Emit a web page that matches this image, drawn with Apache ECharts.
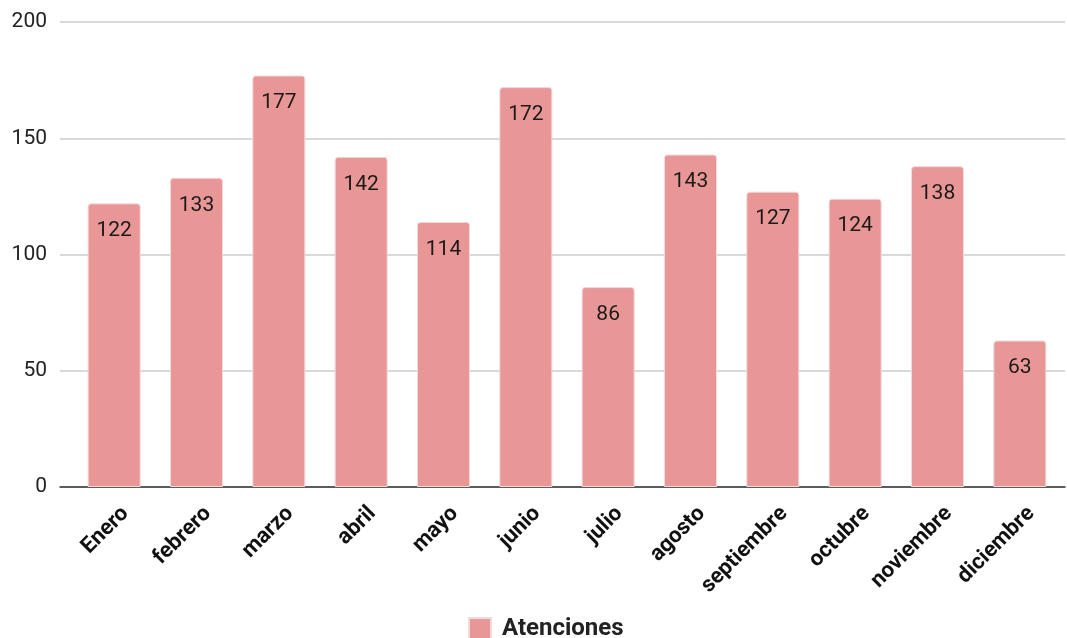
<!DOCTYPE html>
<html><head><meta charset="utf-8">
<script src="https://cdn.jsdelivr.net/npm/echarts@6/dist/echarts.min.js"></script>
<style>html,body{margin:0;padding:0;background:#fff}#c{width:1067px;height:638px}</style>
</head><body><div id="c"></div>
<script>
const categories = ['Enero','febrero','marzo','abril','mayo','junio','julio','agosto','septiembre','octubre','noviembre','diciembre'];
const atenciones = [122,133,177,142,114,172,86,143,127,124,138,63];
const seriesName = 'Atenciones';
const yTicks = {min:0, max:200, interval:50};

const chart = echarts.init(document.getElementById('c'));
chart.setOption({
  animation:false,
  textStyle:{fontFamily:'Roboto'},
  grid:[
    {left:60, right:2, top:22, bottom:151},
    {left:73, right:6, top:22, bottom:151}
  ],
  legend:{
    bottom:-8, left:463,
    itemWidth:22, itemHeight:22, itemGap:10,
    textStyle:{fontSize:24, fontWeight:'bold', color:'#222', fontFamily:'Roboto', padding:[0,0,0,6]},
    data:[{name:seriesName, icon:'rect'}]
  },
  xAxis:[
    {gridIndex:0, type:'category', data:[''], axisLine:{lineStyle:{color:'#333', width:1.5}}, axisTick:{show:false}, axisLabel:{show:false}},
    {gridIndex:1, type:'category', data:categories, axisLine:{show:false}, axisTick:{show:false},
     axisLabel:{rotate:45, margin:12, lineHeight:32, formatter:function(v){return '\n' + v;},
       fontSize:22, fontWeight:'bold', color:'#111', fontFamily:'Roboto', interval:0}}
  ],
  yAxis:[
    {gridIndex:0, type:'value', min:yTicks.min, max:yTicks.max, interval:yTicks.interval,
     axisLine:{show:false}, axisTick:{show:false},
     axisLabel:{fontSize:21, color:'#222', margin:13, fontFamily:'Roboto'},
     splitLine:{lineStyle:{color:'#cccccc', width:1.5}}},
    {gridIndex:1, type:'value', min:yTicks.min, max:yTicks.max, interval:yTicks.interval, show:false, splitLine:{show:false}}
  ],
  series:[{
    name:seriesName, type:'bar', xAxisIndex:1, yAxisIndex:1,
    data:atenciones, barWidth:53,
    itemStyle:{color:'#e99796', borderRadius:[3,3,0,0], borderColor:'#f0dada', borderWidth:1},
    label:{show:true, position:'insideTop', distance:17, fontSize:21, color:'#1a1a1a', fontFamily:'Roboto'}
  }]
});
</script></body></html>
